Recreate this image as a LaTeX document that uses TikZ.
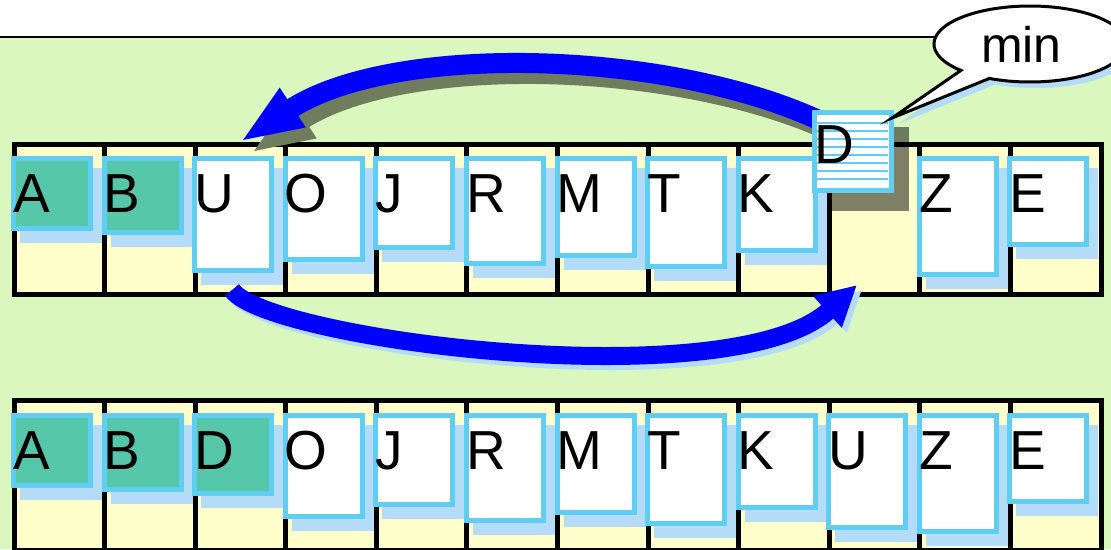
\documentclass[tikz,border=0pt]{standalone}
\usepackage{fontspec}
\setmainfont{Liberation Sans}
\usetikzlibrary{arrows.meta}
\definecolor{bggreen}{HTML}{DAF7BD}
\definecolor{cellyellow}{HTML}{FFFFCC}
\definecolor{cborder}{HTML}{60CDF2}
\definecolor{cshadow}{HTML}{B4DCF8}
\definecolor{tealfill}{HTML}{57C7A9}
\definecolor{arrowblue}{HTML}{0000FF}
\definecolor{darkshadow}{HTML}{707C5E}
\tikzset{
  cardbox/.style={draw=cborder, line width=5pt, inner sep=0pt, minimum width=77pt, anchor=north west},
  letter/.style={anchor=base west, inner sep=0pt, font=\fontsize{55}{66}\selectfont},
  arrayline/.style={line width=5pt},
  toparrow/.style={line width=20pt, -{Triangle[length=63pt,width=42pt]}},
  botarrow/.style={line width=18pt, -{Triangle[length=40pt,width=40pt]}},
}
\newcommand\mycard[6]{%
  \fill[cshadow] (#2+9,#3+11.5) rectangle ++(82,#4);
  \node[cardbox, fill=#5, minimum height=#4pt-5pt] (#1) at (#2,#3) {};
  \node[letter] (#1t) at (#2+2,#3+56) {#6};
}
\begin{document}
\begin{tikzpicture}[x=1pt,y=-1pt]
\useasboundingbox (0,0) rectangle (1111,549);
\clip (0,0) rectangle (1111,549);
\fill[white] (0,0) rectangle (1111,549);
\fill[bggreen] (0,37) rectangle (1111,549);
\draw[line width=1.5pt] (0,37) -- (1111,37);
% arrays
\foreach \ty in {144,400.5} {
  \fill[cellyellow] (14,\ty) rectangle (1101,\ty+150);
  \foreach \i in {1,...,11} \draw[arrayline] ({14+90.58*\i},\ty) -- ({14+90.58*\i},\ty+150);
  \draw[arrayline] (14,\ty) rectangle (1101,\ty+150);
}
% top row cards
\mycard{tA}{11}{156}{75}{tealfill}{A}
\mycard{tB}{101.6}{156}{79}{tealfill}{B}
\mycard{tU}{192.2}{156}{117}{white}{U}
\mycard{tO}{282.7}{156}{106}{white}{O}
\mycard{tJ}{373.3}{156}{94}{white}{J}
\mycard{tR}{463.9}{156}{110}{white}{R}
\mycard{tM}{554.5}{156}{102}{white}{M}
\mycard{tT}{645.1}{156}{113}{white}{T}
\mycard{tK}{735.6}{156}{97}{white}{K}
\mycard{tZ}{916.8}{156}{121}{white}{Z}
\mycard{tE}{1007.4}{156}{91}{white}{E}
% bottom row cards
\mycard{bA}{11}{413}{75}{tealfill}{A}
\mycard{bB}{101.6}{413}{79}{tealfill}{B}
\mycard{bD}{192.2}{413}{83}{tealfill}{D}
\mycard{bO}{282.7}{413}{106}{white}{O}
\mycard{bJ}{373.3}{413}{94}{white}{J}
\mycard{bR}{463.9}{413}{110}{white}{R}
\mycard{bM}{554.5}{413}{102}{white}{M}
\mycard{bT}{645.1}{413}{113}{white}{T}
\mycard{bK}{735.6}{413}{97}{white}{K}
\mycard{bU}{826.2}{413}{117}{white}{U}
\mycard{bZ}{916.8}{413}{121}{white}{Z}
\mycard{bE}{1007.4}{413}{91}{white}{E}
% arrow end points
\coordinate (a1s) at (835,128);
\coordinate (a1e) at (240,142);
\coordinate (b1s) at (232,290);
\coordinate (b1e) at (857,285);
% dark shadow of the lifted D card
\fill[black, fill opacity=0.5] (827,127) rectangle (909,211);
% top arrow
\begin{scope}[transform canvas={shift={(11,11)}}]
\draw[toparrow, draw=darkshadow] (a1s) .. controls (685,50) and (396,40) .. (a1e);
\end{scope}
\draw[toparrow, draw=arrowblue] (a1s) .. controls (685,50) and (396,40) .. (a1e);
% bottom arrow
\begin{scope}[transform canvas={shift={(5,5)}}]
\draw[botarrow, draw=cshadow] (b1s) .. controls (267,340) and (731,399) .. (b1e);
\end{scope}
\draw[botarrow, draw=arrowblue] (b1s) .. controls (267,340) and (731,399) .. (b1e);
% lifted D card
\node[cardbox, fill=white, minimum height=78pt] (Dtop) at (812,110) {};
\foreach \k in {1,...,8} \draw[cborder, line width=2pt] (817,{114.5+8.1*\k}) -- (888,{114.5+8.1*\k});
\node[letter] (Dtopt) at (814,163) {D};
% speech bubble
\fill[cshadow] (898,124) -- (966.9,76.4) arc[start angle=136, end angle=475, x radius=96, y radius=38] -- cycle;
\draw[line width=3pt, fill=white] (892,118) -- (960.9,70.4) arc[start angle=136, end angle=475, x radius=96, y radius=38] -- cycle;
\node[anchor=base, inner sep=0pt, font=\fontsize{50}{60}\selectfont] (mintext) at (1021.5,62.5) {min};
\end{tikzpicture}
\end{document}
